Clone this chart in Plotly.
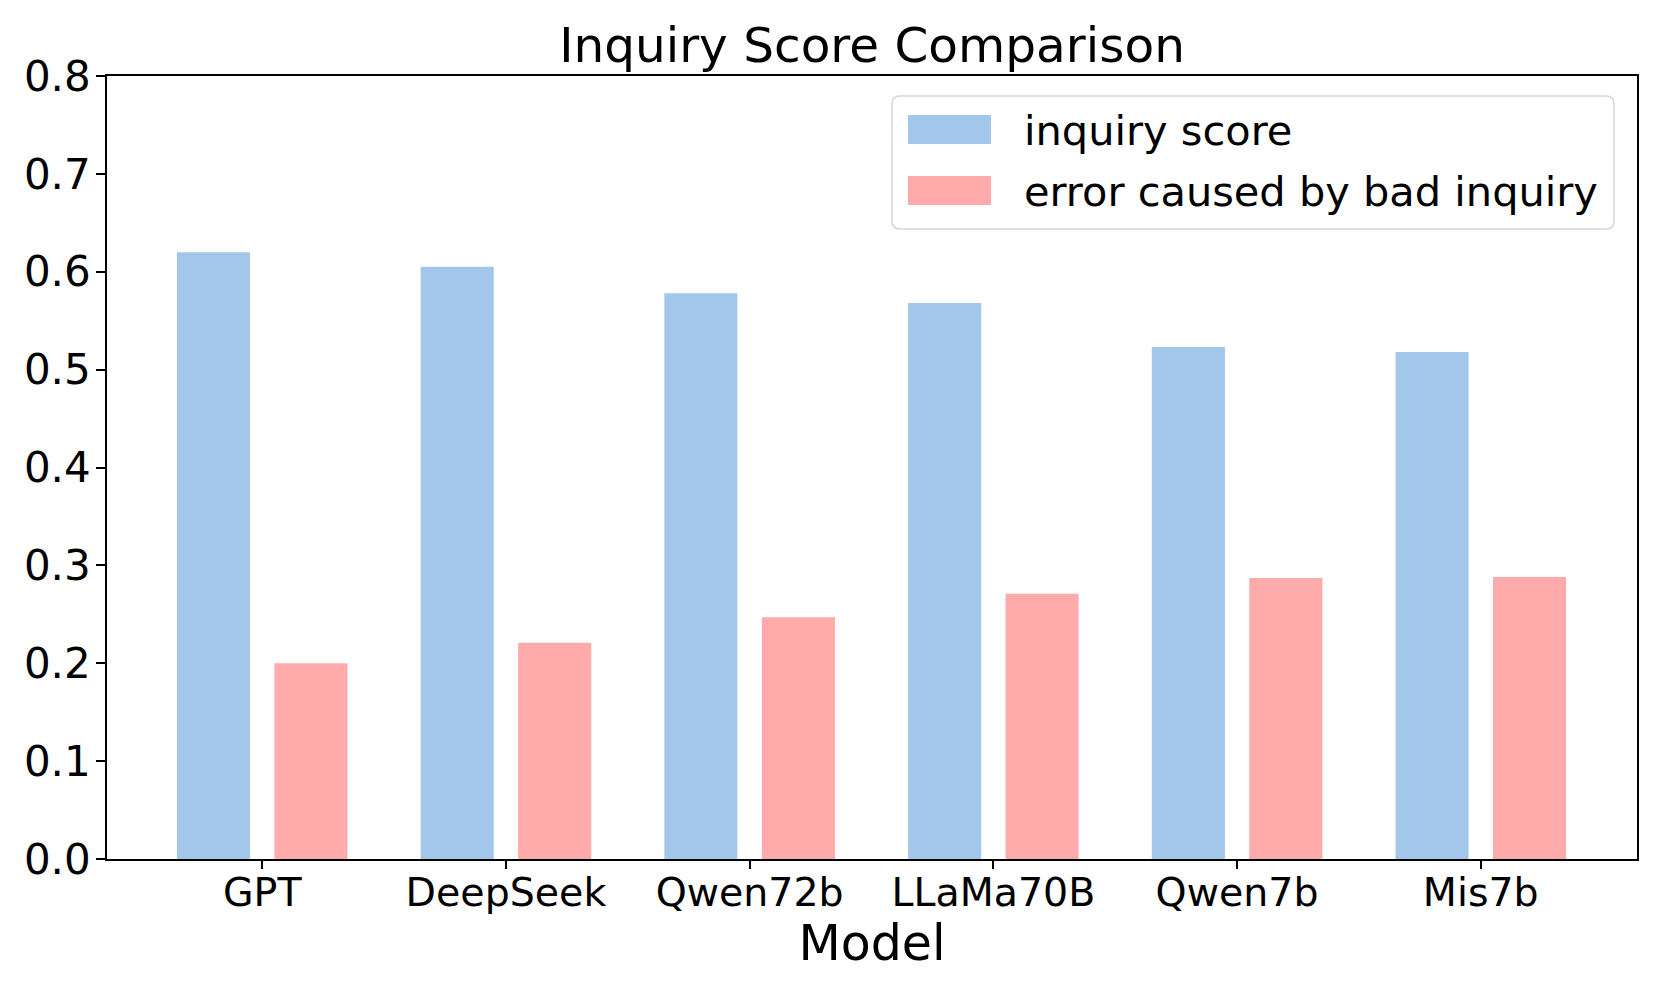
import plotly.graph_objects as go

# ---- data ----
models = ["GPT", "DeepSeek", "Qwen72b", "LLaMa70B", "Qwen7b", "Mis7b"]
inquiry_score = [0.620, 0.605, 0.578, 0.568, 0.523, 0.518]
bad_inquiry_error = [0.200, 0.221, 0.247, 0.271, 0.287, 0.288]
series_names = ["inquiry score", "error caused by bad inquiry"]
y_ticks = [0.0, 0.1, 0.2, 0.3, 0.4, 0.5, 0.6, 0.7, 0.8]

BLUE = "#a3c7ea"
RED = "#ffabab"
FONT = "DejaVu Sans"

# the page body has an 8px margin, so the figure is drawn 8px in from the corner
OFF = 8
W, H = 1661 - 2 * OFF, 997 - 2 * OFF
# plot area in page pixels (reference), converted to figure pixels
L, R, T, B = 107 - OFF, 1637 - OFF, 76 - OFF, 859 - OFF


def px_x(p):
    return (p - OFF - L) / (R - L)


def px_y(p):
    return (B - (p - OFF)) / (B - T)


fig = go.Figure()
fig.add_trace(go.Bar(x=models, y=inquiry_score, name=series_names[0],
                     marker=dict(color=BLUE, line=dict(width=0)), showlegend=False))
fig.add_trace(go.Bar(x=models, y=bad_inquiry_error, name=series_names[1],
                     marker=dict(color=RED, line=dict(width=0)), showlegend=False))

# manual legend (matplotlib style)
shapes = []
rx, ry = 8 / (R - L), 8 / (B - T)
bx0, bx1, by0, by1 = px_x(892), px_x(1614), px_y(229), px_y(96)
path = (f"M{bx0+rx},{by1} L{bx1-rx},{by1} Q{bx1},{by1} {bx1},{by1-ry} "
        f"L{bx1},{by0+ry} Q{bx1},{by0} {bx1-rx},{by0} L{bx0+rx},{by0} "
        f"Q{bx0},{by0} {bx0},{by0+ry} L{bx0},{by1-ry} Q{bx0},{by1} {bx0+rx},{by1} Z")
shapes.append(dict(type="path", xref="paper", yref="paper", path=path,
                   fillcolor="rgba(255,255,255,0.8)", line=dict(color="#d6d6d6", width=1.5)))
annotations = []
for i, (name, col) in enumerate(zip(series_names, [BLUE, RED])):
    top = 115 + i * 61
    shapes.append(dict(type="rect", xref="paper", yref="paper",
                       x0=px_x(908), x1=px_x(991), y0=px_y(top + 29), y1=px_y(top),
                       fillcolor=col, line=dict(width=0)))
    annotations.append(dict(xref="paper", yref="paper", x=px_x(1022), y=px_y(top + 15),
                            xanchor="left", yanchor="middle", showarrow=False,
                            text=name, font=dict(family=FONT, size=41.5, color="black")))

fig.update_layout(
    width=W, height=H, autosize=False,
    margin=dict(l=L, r=W - R, t=T, b=H - B, pad=0),
    paper_bgcolor="white", plot_bgcolor="white",
    barmode="group", bargap=0.2, bargroupgap=0.25,
    font=dict(family=FONT, color="black"),
    title=dict(text="Inquiry Score Comparison", x=(L + R) / 2 / W, xanchor="center",
               y=1 - (45 - OFF) / H, yanchor="middle", yref="container",
               font=dict(family=FONT, size=48.5, color="black")),
    shapes=shapes, annotations=annotations,
)
fig.update_xaxes(
    range=[-0.637, 5.641], showline=True, mirror=True, linecolor="black", linewidth=1.8,
    ticks="outside", ticklen=8, tickwidth=1.6, tickcolor="black", ticklabelstandoff=-10,
    tickfont=dict(family=FONT, size=39.5, color="black"), showgrid=False,
    title=dict(text="Model", font=dict(family=FONT, size=49, color="black"), standoff=2),
)
fig.update_yaxes(
    range=[0, 0.8], tickvals=y_ticks, ticktext=[f"{v:.1f}" for v in y_ticks],
    showline=True, mirror=True, linecolor="black", linewidth=1.8,
    ticks="outside", ticklen=9, tickwidth=1.6, tickcolor="black", ticklabelstandoff=-3,
    tickfont=dict(family=FONT, size=42, color="black"), showgrid=False, zeroline=False,
)

fig.write_html("out.html")
